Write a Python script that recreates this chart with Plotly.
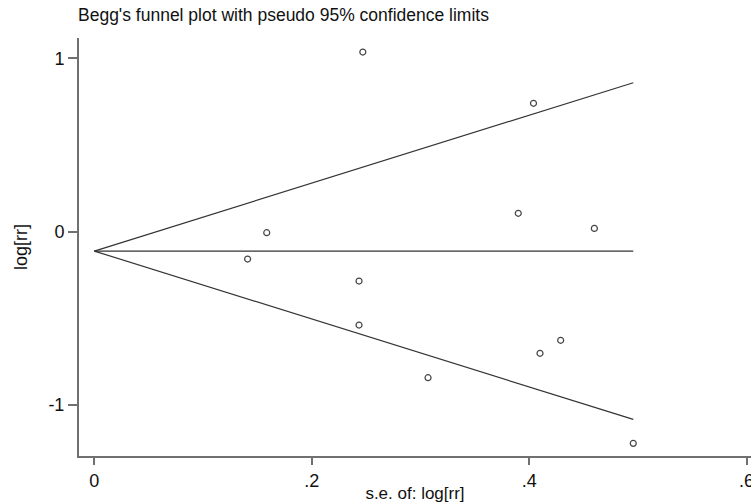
import plotly.graph_objects as go

# Data
se_logrr = [0.247, 0.404, 0.390, 0.460, 0.1586, 0.141, 0.2435, 0.2435, 0.307, 0.410, 0.429, 0.4958]
logrr = [1.036, 0.740, 0.105, 0.018, -0.007, -0.159, -0.286, -0.540, -0.844, -0.703, -0.628, -1.223]
pooled_logrr = -0.113
z95 = 1.96

x_tickvals = [0, 0.2, 0.4, 0.6]
x_ticktext = ["0", ".2", ".4", ".6"]
y_tickvals = [-1, 0, 1]
y_ticktext = ["-1", "0", "1"]

max_se = max(se_logrr)
line_x = [0, max_se]
upper_y = [pooled_logrr + z95 * s for s in line_x]
lower_y = [pooled_logrr - z95 * s for s in line_x]
mid_y = [pooled_logrr for _ in line_x]

line_style = dict(color="#333333", width=1.2)

fig = go.Figure()
fig.add_trace(go.Scatter(x=line_x, y=upper_y, mode="lines", line=line_style, showlegend=False))
fig.add_trace(go.Scatter(x=line_x, y=mid_y, mode="lines", line=line_style, showlegend=False))
fig.add_trace(go.Scatter(x=line_x, y=lower_y, mode="lines", line=line_style, showlegend=False))
fig.add_trace(go.Scatter(
    x=se_logrr, y=logrr, mode="markers",
    marker=dict(symbol="circle-open", size=6, color="#444444", line=dict(width=1.2)),
    showlegend=False,
))

font_family = "Liberation Sans, Arial, sans-serif"

fig.update_layout(
    width=751, height=503,
    margin=dict(l=79, r=0, t=38, b=47, autoexpand=False),
    paper_bgcolor="white", plot_bgcolor="white",
    font=dict(family=font_family, color="#111111"),
    title=dict(
        text="Begg's funnel plot with pseudo 95% confidence limits",
        x=78 / 751, xanchor="left", xref="container",
        y=1 - 15 / 503, yanchor="middle", yref="container",
        font=dict(size=17.5, family=font_family, color="#111111"),
    ),
    xaxis=dict(
        range=[-0.0141, 0.6041],
        tickvals=x_tickvals, ticktext=x_ticktext,
        showgrid=False, zeroline=False, automargin=False,
        showline=True, linecolor="#707070", linewidth=2,
        ticks="outside", ticklen=7, tickwidth=2, tickcolor="#707070",
        tickfont=dict(size=18), ticklabeloverflow="allow",
        title=dict(text="s.e. of: log[rr]", font=dict(size=17), standoff=2),
    ),
    yaxis=dict(
        range=[-1.296, 1.117],
        tickvals=y_tickvals, ticktext=y_ticktext,
        showgrid=False, zeroline=False, automargin=False,
        showline=True, linecolor="#707070", linewidth=2,
        ticks="outside", ticklen=9, tickwidth=2, tickcolor="#707070",
        tickfont=dict(size=18),
        title=dict(text="log[rr]", font=dict(size=18), standoff=16),
    ),
)

fig.write_html(
    "out.html",
    config={"displayModeBar": False},
    post_script="document.body.style.margin='0';document.body.style.overflow='hidden';",
)
